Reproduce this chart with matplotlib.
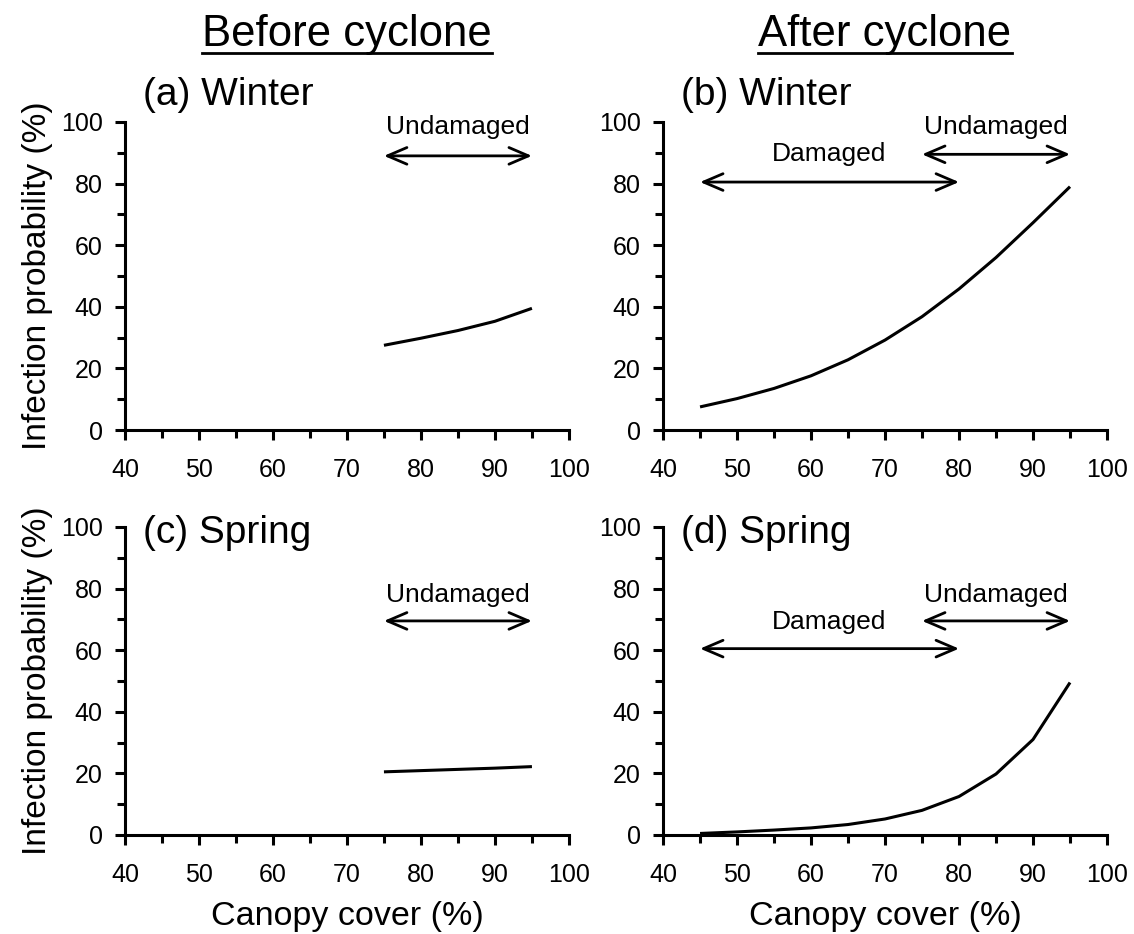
import matplotlib
matplotlib.use("Agg")
import matplotlib.pyplot as plt
from matplotlib.lines import Line2D
from matplotlib.ticker import MultipleLocator

plt.rcParams["font.family"] = ["Liberation Sans", "DejaVu Sans"]

# canopy cover (%) values for each curve
cover_before = [75, 80, 85, 90, 95]
cover_after = [45, 50, 55, 60, 65, 70, 75, 80, 85, 90, 95]

# infection probability (%)
winter_before = [27.5, 29.8, 32.3, 35.3, 39.5]
winter_after = [7.5, 10.2, 13.5, 17.6, 22.8, 29.2, 36.8, 45.8, 56.0, 67.3, 79.0]
spring_before = [20.5, 20.9, 21.3, 21.7, 22.2]
spring_after = [0.5, 1.0, 1.6, 2.3, 3.4, 5.2, 8.0, 12.5, 19.8, 31.0, 49.5]

panel_labels = ["(a) Winter", "(b) Winter", "(c) Spring", "(d) Spring"]
column_titles = ["Before cyclone", "After cyclone"]

# arrow spans: (label, x start, x end, arrow y, text y)
arrows_a = [("Undamaged", 75, 95, 89.0, 98.5)]
arrows_b = [("Undamaged", 75, 95, 89.5, 98.5), ("Damaged", 45, 80, 80.5, 89.5)]
arrows_c = [("Undamaged", 75, 95, 69.5, 78.0)]
arrows_d = [("Undamaged", 75, 95, 69.5, 78.0), ("Damaged", 45, 80, 60.5, 69.0)]

fig = plt.figure(figsize=(11.34, 9.34), dpi=100)
ax_a = fig.add_axes([0.1102, 0.5396, 0.3915, 0.3298])
ax_b = fig.add_axes([0.5847, 0.5396, 0.3915, 0.3298])
ax_c = fig.add_axes([0.1102, 0.1060, 0.3915, 0.3298])
ax_d = fig.add_axes([0.5847, 0.1060, 0.3915, 0.3298])

panels = [
    (ax_a, cover_before, winter_before, arrows_a, 1.088),
    (ax_b, cover_after, winter_after, arrows_b, 1.088),
    (ax_c, cover_before, spring_before, arrows_c, 0.98),
    (ax_d, cover_after, spring_after, arrows_d, 0.98),
]

for i, (ax, xs, ys, arrows, lab_y) in enumerate(panels):
    ax.plot(xs, ys, color="black", lw=2.2, solid_capstyle="butt")
    ax.set_xlim(40, 100)
    ax.set_ylim(0, 100)
    ax.set_xticks(range(40, 101, 10))
    ax.set_yticks(range(0, 101, 20))
    ax.xaxis.set_minor_locator(MultipleLocator(5))
    ax.yaxis.set_minor_locator(MultipleLocator(10))
    ax.tick_params(which="both", direction="out", width=2.2, labelsize=18)
    ax.tick_params(which="major", length=7)
    ax.tick_params(which="minor", length=6)
    ax.tick_params(axis="x", which="major", pad=13)
    ax.tick_params(axis="y", which="major", pad=9)
    for side in ["top", "right"]:
        ax.spines[side].set_visible(False)
    for side in ["left", "bottom"]:
        ax.spines[side].set_linewidth(2.2)
    ax.text(0.04, lab_y, panel_labels[i], transform=ax.transAxes,
            fontsize=28, ha="left", va="center")
    for name, x0, x1, ya, yt in arrows:
        ax.annotate("", xy=(x1, ya), xytext=(x0, ya),
                    arrowprops=dict(arrowstyle="<->,head_length=0.7,head_width=0.3",
                                    lw=2, color="black", shrinkA=0, shrinkB=0,
                                    mutation_scale=20))
        ax.text((x0 + x1) / 2, yt, name, fontsize=19, ha="center", va="center")

for ax in [ax_a, ax_c]:
    ax.set_ylabel("Infection probability (%)", fontsize=24, labelpad=6)
for ax in [ax_c, ax_d]:
    ax.set_xlabel("Canopy cover (%)", fontsize=24.5, labelpad=10)

# column titles, underlined
titles = []
for ax, title in zip([ax_a, ax_b], column_titles):
    pos = ax.get_position()
    t = fig.text((pos.x0 + pos.x1) / 2, 0.9507, title, fontsize=31.5,
                 ha="center", va="baseline")
    titles.append(t)

fig.canvas.draw()
renderer = fig.canvas.get_renderer()
for t in titles:
    bb = t.get_window_extent(renderer).transformed(fig.transFigure.inverted())
    fig.add_artist(Line2D([bb.x0, bb.x1], [0.9433, 0.9433],
                          transform=fig.transFigure, color="black", lw=2))

fig.savefig("out.png", dpi=100)
